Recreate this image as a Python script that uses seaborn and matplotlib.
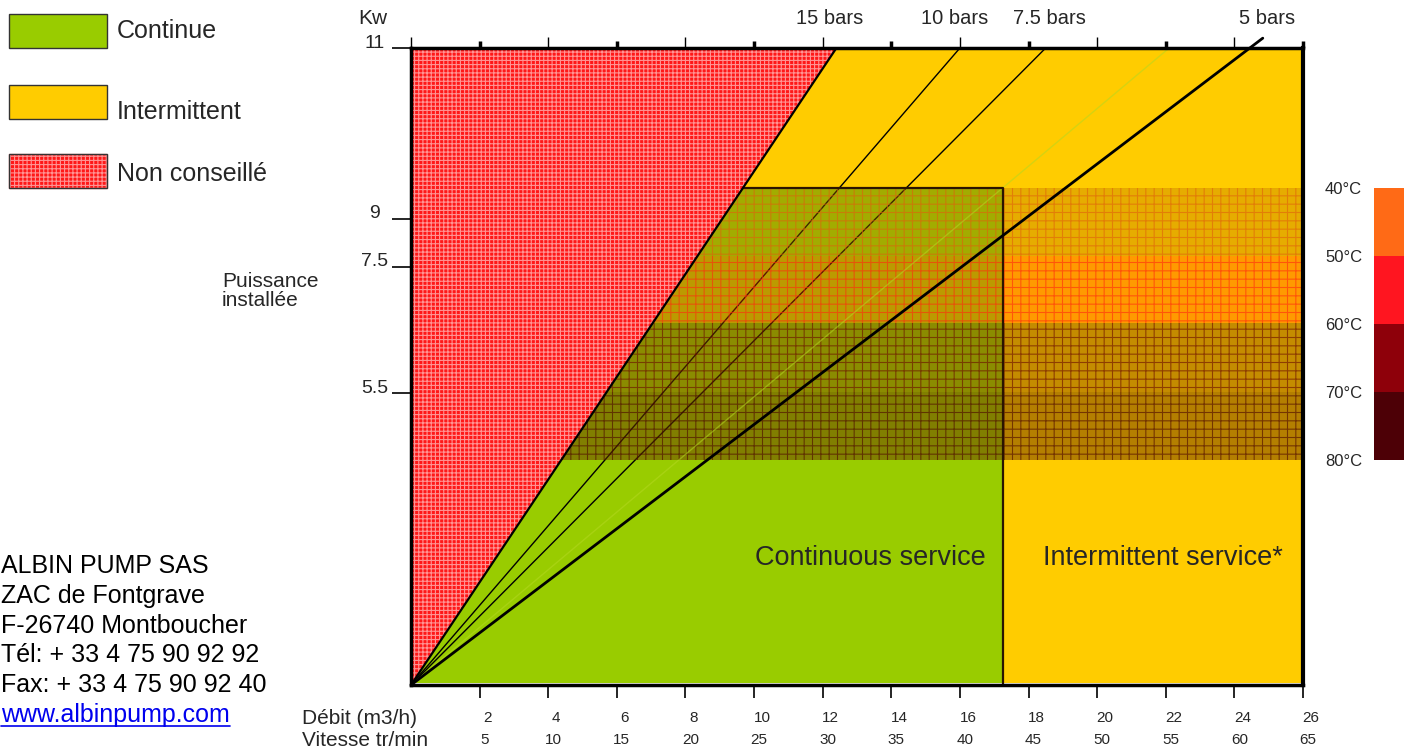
import numpy as np
import pandas as pd
import matplotlib
matplotlib.use("Agg")
import matplotlib.pyplot as plt
import seaborn as sns
from matplotlib.patches import Rectangle, Polygon
from matplotlib.colors import ListedColormap
from matplotlib.lines import Line2D

# ---------------- data ----------------
flow_ticks = [2, 4, 6, 8, 10, 12, 14, 16, 18, 20, 22, 24, 26]
speed_ticks = [5, 10, 15, 20, 25, 30, 35, 40, 45, 50, 55, 60, 65]
kw_tick_pos = [11.0, 8.05, 7.22, 5.04]
kw_tick_labels = ["11", "9", "7.5", "5.5"]

pressure_labels = ["15 bars", "10 bars", "7.5 bars", "5 bars"]
pressure_top_flow = [12.4, 16.0, 18.5, 24.45]      # flow where line reaches 11 kW
pressure_label_flow = [12.21, 15.86, 18.62, 24.95]
faint_line_top_flow = 22.1

continuous_max_flow = 17.26
continuous_max_kw = 8.58

temp_labels = ["40°C", "50°C", "60°C", "70°C", "80°C"]
temp_band_edges = [8.58, 7.41, 6.25, 5.06, 3.885]
temp_colors = ["#FF6A16", "#FF1520", "#8E000A", "#4D0006"]

legend_labels = ["Continue", "Intermittent", "Non conseillé"]
company_lines = ["ALBIN PUMP SAS", "ZAC de Fontgrave", "F-26740 Montboucher",
                 "Tél: + 33 4 75 90 92 92", "Fax: + 33 4 75 90 92 40",
                 "www.albinpump.com"]

GREEN = "#99CC00"
YELLOW = "#FFCC00"
RED = "#FF1818"
band_tint = ["#B67100", "#FF3D00", "#7C3E00", "#6A3400"]
band_tint_alpha = [0.34, 0.35, 0.45, 0.5]
band_grid = ["#E0600C", "#FF2A10", "#6A0A00", "#4A0400"]

# ---------------- style ----------------
sns.set_style("white")
plt.rcParams["font.family"] = ["Liberation Sans", "DejaVu Sans"]
plt.rcParams["hatch.linewidth"] = 0.8

W, H = 1404, 749
fig = plt.figure(figsize=(W / 100, H / 100), dpi=100)
fig.patch.set_facecolor("white")

def fx(px):
    return px / W

def fy(py):
    return 1 - py / H

ax = fig.add_axes([fx(411), fy(685), 892 / W, 637 / H])
ax.set_xlim(0, 26)
ax.set_ylim(0, 11)
ax.set_facecolor("white")

# background regions
ax.add_patch(Rectangle((0, 0.04), 26, 10.92, fc=YELLOW, lw=0, zorder=1))
ax.add_patch(Rectangle((0, 0.04), continuous_max_flow, continuous_max_kw - 0.04,
                       fc=GREEN, lw=0, zorder=1.1))

# pressure lines
line_df = pd.DataFrame({
    "flow": [v for t in pressure_top_flow for v in (0, t)],
    "kw": [v for _ in pressure_top_flow for v in (0, 11)],
    "line": [lab for lab in pressure_labels for _ in range(2)],
})
widths = {"15 bars": 1.6, "10 bars": 1.0, "7.5 bars": 1.0, "5 bars": 2.0}
for lab in pressure_labels[1:3]:
    sub = line_df[line_df["line"] == lab]
    sns.lineplot(data=sub, x="flow", y="kw", color="black", lw=widths[lab],
                 ax=ax, zorder=2, legend=False, estimator=None)

# temperature bands overlay
for i in range(len(temp_colors)):
    lo, hi = temp_band_edges[i + 1], temp_band_edges[i]
    ax.add_patch(Rectangle((0, lo), 26, hi - lo, fc=band_tint[i],
                           alpha=band_tint_alpha[i], lw=0, zorder=3))
    rgba = matplotlib.colors.to_rgba(band_grid[i], 0.6)
    ax.add_patch(Rectangle((0, lo), 26, hi - lo, fc="none", ec=rgba, hatch="++",
                           lw=0, zorder=3.1))

# faint line
ax.plot([0, faint_line_top_flow], [0, 11], color="#B4D820", lw=1.0, alpha=0.55, zorder=3.2)

# continuous box outline
ax.plot([0, continuous_max_flow, continuous_max_flow],
        [continuous_max_kw, continuous_max_kw, 0], color="#2A1400", lw=1.6, zorder=3.5)

# 5 bars line (extends a little above the frame)
t5 = pressure_top_flow[3]
sns.lineplot(x=[0, t5 * 11.17 / 11], y=[0, 11.17], color="black", lw=2.0,
             ax=ax, zorder=4.5, legend=False, estimator=None, clip_on=False)

# not recommended region
t15 = pressure_top_flow[0]
ax.add_patch(Polygon([(0, 0), (t15, 11), (0, 11)], closed=True, fc=RED,
                     ec="#FF9494", hatch="++++", lw=0, zorder=5))
sub = line_df[line_df["line"] == "15 bars"]
sns.lineplot(data=sub, x="flow", y="kw", color="black", lw=widths["15 bars"],
             ax=ax, zorder=6, legend=False, estimator=None)

# in-plot text
ax.text(13.38, 2.19, "Continuous service", fontsize=19.5, ha="center", va="center", zorder=7)
ax.text(21.92, 2.19, "Intermittent service*", fontsize=19.5, ha="center", va="center", zorder=7)

# spines
for s in ["left", "bottom", "top"]:
    ax.spines[s].set_linewidth(2.5)
    ax.spines[s].set_color("black")
ax.spines["right"].set_linewidth(3)
ax.spines["right"].set_color("black")
for s in ax.spines.values():
    s.set_zorder(8)

# bottom ticks
ax.set_xticks(flow_ticks)
ax.set_xticklabels([])
ax.tick_params(axis="x", which="major", bottom=True, top=False, direction="out",
               length=9, width=1.2, color="black")
for f, v in zip(flow_ticks, speed_ticks):
    ax.annotate(str(f), xy=(f, 0), xycoords=("data", "axes fraction"),
                xytext=(8, -33), textcoords="offset pixels", ha="center",
                va="center", fontsize=11)
    ax.annotate(str(v), xy=(f, 0), xycoords=("data", "axes fraction"),
                xytext=(5, -55), textcoords="offset pixels", ha="center",
                va="center", fontsize=11)

# top ticks
sec = ax.secondary_xaxis("top")
sec.set_xticks([0, 4, 8, 12, 16, 20, 24])
sec.set_xticks([2, 6, 10, 14, 18, 22, 26], minor=True)
sec.set_xticklabels([])
sec.tick_params(which="major", direction="out", length=8, width=1.0, color="black")
sec.tick_params(which="minor", direction="out", length=5, width=2.5, color="black")
sec.spines["top"].set_visible(False)

# y ticks
ax.set_yticks(kw_tick_pos)
ax.set_yticklabels([])
ax.tick_params(axis="y", left=True, right=False, direction="out", length=14,
               width=1.2, color="black")
for p, lab in zip(kw_tick_pos, kw_tick_labels):
    ax.annotate(lab, xy=(0, p), xycoords=("axes fraction", "data"),
                xytext=(-36, 5), textcoords="offset pixels", ha="center",
                va="center", fontsize=14)

ax.set_xlabel("")
ax.set_ylabel("")

# pressure labels
for lab, lx in zip(pressure_labels, pressure_label_flow):
    ax.annotate(lab, xy=(lx, 1), xycoords=("data", "axes fraction"),
                xytext=(0, 30), textcoords="offset pixels", ha="center",
                va="center", fontsize=14.5)

# figure-level text
fig.text(fx(373), fy(18), "Kw", fontsize=15, ha="center", va="center")
fig.text(fx(222), fy(291), "Puissance\ninstallée", fontsize=15, ha="left",
         va="center", linespacing=1.05)
fig.text(fx(302), fy(718), "Débit (m3/h)", fontsize=15, ha="left", va="center")
fig.text(fx(302), fy(740), "Vitesse tr/min", fontsize=15, ha="left", va="center")

# legend
leg_box_y = [14, 85, 154]
leg_text_y = [31, 112, 174]
leg_fc = [GREEN, YELLOW, RED]
for i in range(3):
    r = Rectangle((fx(9), fy(leg_box_y[i] + 34)), 98 / W, 34 / H,
                  transform=fig.transFigure, fc=leg_fc[i], ec="#333333", lw=1.0,
                  hatch="++++" if i == 2 else None)
    if i == 2:
        r.set_edgecolor("#FF9494")
    fig.add_artist(r)
    if i == 2:
        fig.add_artist(Rectangle((fx(9), fy(leg_box_y[i] + 34)), 98 / W, 34 / H,
                                 transform=fig.transFigure, fc="none",
                                 ec="#333333", lw=1.0))
    fig.text(fx(117), fy(leg_text_y[i]), legend_labels[i], fontsize=18,
             ha="left", va="center")

# company block
url_text = None
for i, line in enumerate(company_lines):
    is_url = line.startswith("www")
    t = fig.text(fx(1), fy(566 + 29.8 * i), line,
                 fontsize=18, ha="left", va="center",
                 color="#0000EE" if is_url else "black")
    if is_url:
        url_text = t

# temperature strip (seaborn heatmap)
tax = fig.add_axes([fx(1374), fy(460), (W - 1374) / W, 272 / H])
sns.heatmap(np.arange(len(temp_colors)).reshape(-1, 1), cmap=ListedColormap(temp_colors),
            cbar=False, ax=tax, xticklabels=False, yticklabels=False, vmin=-0.5,
            vmax=len(temp_colors) - 0.5)
tax.set_yticks(np.arange(len(temp_labels)))
tax.set_yticklabels(temp_labels, rotation=0, fontsize=12)
tax.tick_params(axis="y", length=0, pad=8.6)
tax.set_xlabel("")
tax.set_ylabel("")

# underline url
fig.canvas.draw()
bb = url_text.get_window_extent(renderer=fig.canvas.get_renderer())
fig.add_artist(Line2D([bb.x0 / W, bb.x1 / W], [(bb.y0 + 1) / H, (bb.y0 + 1) / H],
                      transform=fig.transFigure, color="#0000EE", lw=1.2))

fig.savefig("out.png", dpi=100)
